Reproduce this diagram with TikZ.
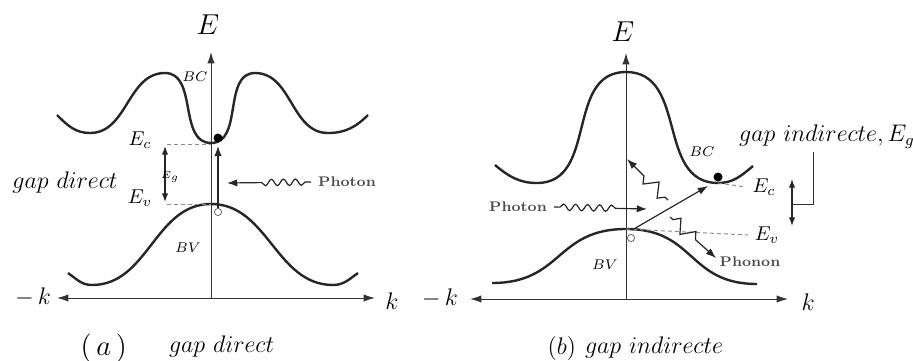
\documentclass[tikz,border=0pt]{standalone}
\usepackage{amsmath,amssymb}
\usepackage{xcolor}
\usepackage{tikz}
\usetikzlibrary{arrows.meta,positioning,calc,decorations.pathmorphing}

\begin{document}
\begin{tikzpicture}[
    x=0.5pt,y=0.5pt,
    band/.style = {line width=1.2pt,black!85},
    axe/.style  = {line width=0.5pt,black!80},
    niv/.style  = {dashed,black!45,line width=0.5pt,dash pattern=on 2pt off 1.5pt},
    fl/.style   = {-{Latex[length=1.8mm,width=1.3mm]},line width=0.6pt,black!85},
    dfl/.style  = {{Latex[length=1.5mm,width=1.1mm]}-{Latex[length=1.5mm,width=1.1mm]},
                   line width=0.6pt,black!85},
    onde/.style = {fl,decorate,decoration={snake,amplitude=1.6pt,segment length=6pt,
                   pre length=3pt,post length=15pt}},
    zig/.style  = {fl,decorate,decoration={zigzag,amplitude=3.2pt,segment length=10pt,
                   pre length=2pt,post length=9pt}},
    ptc/.style  = {circle,inner sep=0pt,minimum size=4.5pt,fill=black},
    trou/.style = {circle,inner sep=0pt,minimum size=3.6pt,draw=black!60,fill=white,
                   line width=0.4pt},
    tag/.style  = {font=\scriptsize\bfseries,text=black!70},
  ]
  \useasboundingbox (0,0) rectangle (913,360);

  % ---- (a) gap direct ----
  \coordinate (oa)  at (211,62);
  \coordinate (ea)  at (211,308);
  \coordinate (kam) at (57,62);
  \coordinate (kap) at (375,62);
  \draw[axe,{Latex[length=2mm,width=1.3mm]}-{Latex[length=2mm,width=1.3mm]}] (kam) -- (kap);
  \draw[axe,-{Latex[length=2mm,width=1.3mm]}] (oa) -- (ea);

  \node (Ea)  at (208,335) {\Large$E$};
  \node (mka) at (33,63)   {\large$-\,k$};
  \node (pka) at (392,59)  {\large$k$};

  \draw[band] (57,245) to[out=-45,in=180] (90,227) to[out=0,in=180] (165,287)
              to[out=0,in=180] (211,217) to[out=0,in=180] (255,287)
              to[out=0,in=180] (328,227) to[out=0,in=225] (368,245);
  \draw[band] (68,87) to[out=-35,in=180] (92,75) to[out=0,in=180] (211,156)
              to[out=0,in=180] (333,75) to[out=0,in=215] (358,87);

  \node[font=\scriptsize] (bca) at (195,283) {$BC$};
  \node[font=\scriptsize] (bva) at (188,112) {$BV$};

  \coordinate (eca) at (167,216);
  \coordinate (eva) at (167,156);
  \draw[niv] (eca) -- (211,216);
  \draw[niv] (eva) -- (211,156);
  \node (Eca) at (140,220) {$E_c$};
  \node (Eva) at (140,162) {$E_v$};
  \draw[dfl] ($(eca)+(-2,-2)$) -- ($(eva)+(-2,2)$);
  \node[font=\tiny,inner sep=0pt] (ega) at (170,183) {$E_g$};

  \node[font=\large] (gda) at (65,178) {$gap\ direct$};

  \node[ptc]  (ela) at (218,222) {};
  \node[trou] (hoa) at (218,148) {};
  \draw[fl] (hoa.north) -- ($(ela.south)+(0,-3)$);

  \node[tag] (pha) at (347,178) {Photon};
  \draw[onde] (pha.west) -- (227,177);

  \node[anchor=east] (la) at (134,12) {\Large$(\,a\,)$};
  \node[font=\large,anchor=west] (lta) at (162,14) {$gap\ direct$};

  % ---- (b) gap indirecte ----
  \coordinate (ob)  at (626,61);
  \coordinate (eb)  at (626,307);
  \coordinate (kbm) at (470,61);
  \coordinate (kbp) at (788,61);
  \draw[axe,{Latex[length=2mm,width=1.3mm]}-{Latex[length=2mm,width=1.3mm]}] (kbm) -- (kbp);
  \draw[axe,-{Latex[length=2mm,width=1.3mm]}] (ob) -- (eb);

  \node (Eb)  at (623,328) {\Large$E$};
  \node (mkb) at (440,62)  {\large$-\,k$};
  \node (pkb) at (808,58)  {\large$k$};

  \draw[band] (495,195) to[out=-40,in=180] (537,177) to[out=0,in=180,looseness=1.1] (626,288)
              to[out=0,in=180,looseness=1.1] (718,177) to[out=0,in=220] (753,194);
  \draw[band] (492,77) to[out=0,in=180,looseness=1.25] (626,131)
              to[out=0,in=180,looseness=1.25] (757,76);

  \node[font=\scriptsize] (bcb) at (702,208) {$BC$};
  \node[font=\scriptsize] (bvb) at (605,95)  {$BV$};

  \node[ptc]  (elb) at (718,183) {};
  \node[trou] (hob) at (631,122) {};

  \node (Ecb) at (764,173) {$E_c$};
  \node (Evb) at (767,125) {$E_v$};
  \draw[niv] (718,177) -- (Ecb.west);
  \draw[niv] (626,131) -- (Evb.west);

  \coordinate (gh) at (792,181);
  \coordinate (gb) at (792,134);
  \draw[dfl] (gh) -- (gb);
  \node[font=\large] (gib) at (827,223) {$gap\ indirecte,E_g$};
  \draw[line width=0.5pt,black!80] ($(gh)!0.55!(gb)$) -| (813,208);

  \node[tag] (phb) at (518,153) {Photon};
  \draw[onde] (phb.east) -- (647,151);

  \draw[fl] (632,130) -- (708,174);
  \draw[zig] (668,160) -- (627,201);
  \draw[zig] (670,143) -- (716,102);
  \node[tag] (pnb) at (750,98) {Phonon};

  \node[anchor=east] (lb) at (583,12) {\large$(b)$};
  \node[font=\large,anchor=west] (ltb) at (578,13) {$gap\ indirecte$};
\end{tikzpicture}
\end{document}
